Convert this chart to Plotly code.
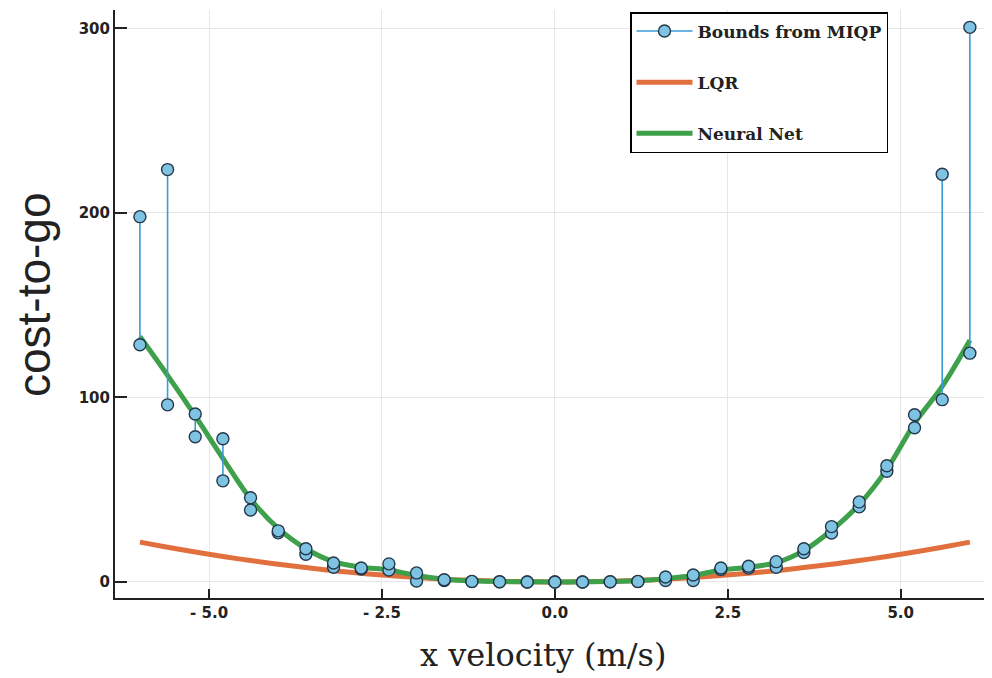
import plotly.graph_objects as go

# ---- data ----
x_vel = [-6.0, -5.6, -5.2, -4.8, -4.4, -4.0, -3.6, -3.2, -2.8, -2.4, -2.0, -1.6, -1.2, -0.8, -0.4,
         0.0, 0.4, 0.8, 1.2, 1.6, 2.0, 2.4, 2.8, 3.2, 3.6, 4.0, 4.4, 4.8, 5.2, 5.6, 6.0]
miqp_upper = [198, 223.5, 91, 77.6, 45.6, 27.7, 18, 10.3, 7.6, 9.8, 4.9, 1.2, 0.3, 0.1, 0,
              0, 0, 0.1, 0.3, 2.7, 3.8, 7.6, 8.5, 11, 18, 30, 43.4, 63, 90.6, 221, 300.6]
miqp_lower = [128.6, 96, 78.7, 54.8, 39, 26.6, 15, 8, 7, 6.5, 0.5, 0.8, 0.2, 0.05, 0,
              0, 0, 0.05, 0.2, 0.8, 0.8, 6.8, 7.5, 8, 16, 26.5, 40.7, 60, 83.6, 98.8, 124]
lqr_cost = [21.6, 18.8, 16.2, 13.8, 11.6, 9.6, 7.8, 6.1, 4.7, 3.5, 2.4, 1.5, 0.9, 0.4, 0.1,
            0.0, 0.1, 0.4, 0.9, 1.5, 2.4, 3.5, 4.7, 6.1, 7.8, 9.6, 11.6, 13.8, 16.2, 18.8, 21.6]
nn_cost = [133, 112, 90, 67, 45, 29, 18, 11, 8, 6.5, 3.5, 1.5, 0.6, 0.2, 0.05,
           0, 0.05, 0.2, 0.6, 1.8, 3.5, 6.5, 8, 10.5, 17, 28, 42, 61, 86, 106, 131]

x_ticks = [-5.0, -2.5, 0.0, 2.5, 5.0]
x_tick_labels = ["- 5.0", "- 2.5", "0.0", "2.5", "5.0"]
y_ticks = [0, 100, 200, 300]
y_tick_labels = ["0", "100", "200", "300"]

# build segment coordinates for the bounds (lower-upper pairs)
seg_x, seg_y = [], []
for xv, lo, hi in zip(x_vel, miqp_lower, miqp_upper):
    seg_x += [xv, xv, None]
    seg_y += [lo, hi, None]

BLUE_LINE = "#3a9bd5"
BLUE_FILL = "#7fc3e3"
ORANGE = "#e2703f"
GREEN = "#3ea04a"

W, H = 984, 670
L, R, T, B = 107, 0, 2, 80
PW, PH = W - L - R, H - T - B

fig = go.Figure()
fig.add_trace(go.Scatter(
    x=x_vel, y=lqr_cost, mode="lines", name="LQR", legendgroup="b", legendrank=2,
    line=dict(color=ORANGE, width=5, shape="spline")))
fig.add_trace(go.Scatter(
    x=x_vel, y=nn_cost, mode="lines", name="Neural Net", legendgroup="c", legendrank=3,
    line=dict(color=GREEN, width=5, shape="spline")))
fig.add_trace(go.Scatter(
    x=seg_x, y=seg_y, mode="lines+markers", name="Bounds from MIQP", legendgroup="a", legendrank=1,
    line=dict(color=BLUE_LINE, width=1.6),
    marker=dict(size=12, color=BLUE_FILL, line=dict(color="#23384a", width=1.4))))

fig.update_layout(
    width=W, height=H,
    margin=dict(l=L, r=R, t=T, b=B),
    paper_bgcolor="white", plot_bgcolor="white",
    showlegend=True,
    legend=dict(
        x=(622 - L) / PW, y=1 - 2 / PH, xanchor="left", yanchor="top",
        bordercolor="black", borderwidth=1.5, bgcolor="white",
        font=dict(family="DejaVu Serif", size=17, color="#222", weight="bold"),
        tracegroupgap=26, itemwidth=56,
    ),
    xaxis=dict(
        range=[-6.36, 6.32], tickvals=x_ticks, ticktext=x_tick_labels,
        showgrid=True, gridcolor="#e6e6e6", gridwidth=1,
        showline=True, linecolor="#222", linewidth=2,
        ticks="inside", ticklen=9, tickcolor="#222", tickwidth=1.5,
        tickfont=dict(family="DejaVu Sans", size=15, color="#222", weight="bold"),
        zeroline=False,
    ),
    yaxis=dict(
        range=[-8.7, 310], tickvals=y_ticks, ticktext=y_tick_labels,
        showgrid=True, gridcolor="#e6e6e6", gridwidth=1,
        showline=True, linecolor="#222", linewidth=2,
        ticks="inside", ticklen=12, tickcolor="#222", tickwidth=1.5,
        tickfont=dict(family="DejaVu Sans", size=15, color="#222", weight="bold"),
        zeroline=False,
    ),
    annotations=[
        dict(text="x velocity (m/s)", xref="paper", yref="paper",
             x=(535 - L) / PW, y=-57 / PH, xanchor="center", yanchor="middle",
             showarrow=False, font=dict(family="DejaVu Serif", size=32, color="#222")),
        dict(text="cost-to-go", xref="paper", yref="paper",
             x=(26 - L) / PW, y=(590 - 287) / PH, xanchor="center", yanchor="middle",
             textangle=-90, showarrow=False,
             font=dict(family="Liberation Sans", size=46, color="#222")),
    ],
)

fig.write_html("out.html")
